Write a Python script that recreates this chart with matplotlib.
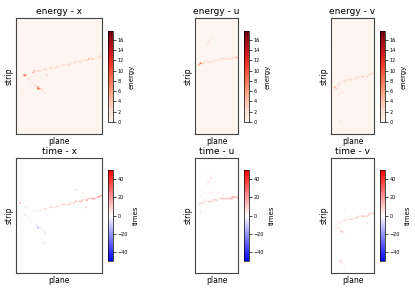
import numpy as np
import matplotlib
matplotlib.use('Agg')
import matplotlib.pyplot as plt

W, H = 415, 290

# hits: plane, strip, energy, time
x_plane = [17, 19, 21, 23, 25, 27, 29, 31, 33, 35, 37, 39, 41, 43, 45, 47, 49, 51, 53, 55, 57, 59, 61, 63, 65, 67, 69, 71, 73, 75, 77, 79, 81, 83, 85,
           8, 9, 10, 12, 14, 16, 18, 20, 21, 22, 23, 24, 26, 28, 29, 31, 7, 59, 3, 9, 28, 66, 70]
x_strip = [62, 63, 63, 64, 64, 65, 65, 65, 66, 66, 67, 67, 68, 68, 69, 69, 69, 70, 70, 71, 71, 72, 72, 73, 73, 74, 74, 74, 75, 75, 76, 76, 77, 77, 78,
           59, 59, 59, 56, 54, 52, 50, 48, 47, 46, 46, 45, 44, 42, 41, 59, 42, 85, 71, 66, 30, 81, 67]
x_energy = [6, 5, 3, 2.5, 2.5, 2.5, 2.5, 2, 2.5, 2.5, 2, 2.5, 2.5, 2.5, 2, 2.5, 2.5, 2.5, 2.5, 2.5, 3, 2.5, 2.5, 2.5, 2.5, 3, 2.5, 3, 6, 5, 2.5, 2.5, 2.5, 2.5, 3,
            10, 12, 9, 3, 2, 1.5, 2, 3, 7, 9, 7, 4, 2, 2, 1.5, 4, 1.5, 0.3, 0.3, 0.5, 0.3, 0.5, 0.3]
x_times = [2, 3, 3, 4, 5, 5, 6, 6, 6, 7, 7, 8, 8, 9, 9, 10, 10, 11, 11, 11, 12, 13, 13, 14, 14, 15, 16, 17, 17, 18, 19, 20, 21, 22, 23,
           -5, -6, -5, -3, -2, -2, -3, -6, -9, -10, -8, -6, -3, 6, 8, -3, -3, 10, 22, -6, 10, 4, 10]

u_plane = [4, 5, 6, 7, 8, 9, 10, 12, 13, 14, 15, 16, 17, 19, 20, 21, 22, 24, 25, 26, 27, 29, 30, 31, 32, 34, 35, 36, 37, 38, 39, 40, 41, 42,
           15, 14, 13, 12, 11, 10, 16, 9, 13, 5, 21, 28, 5, 5]
u_strip = [69, 71, 71, 71, 71, 72, 72, 72, 72, 73, 73, 73, 73, 74, 74, 74, 74, 75, 75, 75, 75, 75, 76, 76, 76, 76, 76, 76, 77, 77, 77, 77, 77, 76,
           96, 94, 92, 90, 89, 74, 81, 63, 100, 79, 81, 80, 60, 62]
u_energy = [6, 9, 7, 5, 3, 3, 2.5, 2.5, 2.5, 2.5, 3, 2.5, 2.5, 2.5, 2.5, 2.5, 2.5, 2.5, 2.5, 2.5, 2.5, 2.5, 2.5, 2.5, 2.5, 2.5, 2.5, 2.5, 2.5, 2.5, 2.5, 3, 5, 2.5,
            2.5, 2.5, 2, 1.5, 2, 1, 0.7, 0.5, 0.3, 0.5, 0.5, 0.5, 0.5, 0.5]
u_times = [5, 6, 5, 6, 7, 6, 7, 7, 7, 10, 11, 10, 9, 11, 10, 11, 10, 11, 10, 11, 12, 13, 13, 12, 13, 13, 15, 15, 17, 15, 17, 18, 18, 17,
           10, 5, 4, 3, 3, 5, 5, 3, 4, 4, 4, 6, 4, 4]

v_plane = [4, 5, 6, 7, 8, 10, 12, 14, 16, 18, 20, 22, 24, 26, 28, 30, 32, 34, 36, 38, 40, 42,
           4, 7, 8, 8, 9, 15, 10, 10, 11, 11, 14, 14, 11, 36]
v_strip = [47, 46, 48, 49, 50, 52, 53, 53, 54, 54, 55, 55, 56, 56, 57, 57, 57, 58, 58, 59, 60, 60,
           58, 52, 40, 45, 43, 39, 13, 11, 9, 42, 3, 63, 41, 50]
v_energy = [6, 4, 4, 3, 3, 2.5, 2.5, 2.5, 2.5, 2.5, 2.5, 2, 2.5, 2.5, 3, 2.5, 3.5, 2.5, 3.5, 2.5, 3.5, 3,
            1, 0.7, 2, 1.5, 1, 1, 2, 1.5, 1, 1.5, 1, 0.5, 1, 0.3]
v_times = [3, 4, 4, 5, 5, 6, 6, 7, 7, 7, 8, 8, 9, 10, 11, 11, 13, 12, 13, 14, 14, 15,
           4, 6, 4, 6, 10, 4, 10, 8, 6, 10, 5, 5, 8, 8]

names = ['x', 'u', 'v']
planes = [x_plane, u_plane, v_plane]
strips = [x_strip, u_strip, v_strip]
energies = [x_energy, u_energy, v_energy]
times = [x_times, u_times, v_times]
n_planes = [86, 43, 43]
n_strips = 116
# one cell covers about 1.5 pixels, so imshow smooths the hits
cell = 1.5


def box(left, top, right, bottom):
    # pixel box to figure fraction
    return [left / W, 1 - bottom / H, (right - left) / W, (bottom - top) / H]


def draw(ax_box, cax_box, img, cmap, vmin, vmax, title, label, ticks):
    ax = fig.add_axes(box(*ax_box))
    im = ax.imshow(img, origin='lower', aspect='auto', cmap=cmap, vmin=vmin, vmax=vmax)
    ax.set_xticks([])
    ax.set_yticks([])
    ax.set_title(title, fontsize=6.5, pad=3)
    ax.set_xlabel('plane', fontsize=5.5, labelpad=2)
    ax.set_ylabel('strip', fontsize=5.5, labelpad=1.5)
    for s in ax.spines.values():
        s.set_linewidth(0.8)
        s.set_color('#444444')
    cax = fig.add_axes(box(*cax_box))
    cb = fig.colorbar(im, cax=cax)
    cb.set_ticks(ticks)
    cb.ax.tick_params(labelsize=3.5, length=2, width=0.5, pad=1.5)
    cb.outline.set_linewidth(0.5)
    cb.set_label(label, fontsize=5, labelpad=3)


fig = plt.figure(figsize=(W / 100, H / 100), dpi=100)

ax_x = [(16, 102), (195, 238), (331, 374)]
cax_x = [(108, 113), (244, 249), (380, 385)]

for i in range(3):
    shape = (int(n_strips / cell) + 1, int(n_planes[i] / cell) + 1)
    e = np.zeros(shape)
    t = np.zeros(shape)
    rows = (np.array(strips[i]) / cell).astype(int)
    cols = (np.array(planes[i]) / cell).astype(int)
    e[rows, cols] = energies[i]
    t[rows, cols] = times[i]
    draw((ax_x[i][0], 18, ax_x[i][1], 134), (cax_x[i][0], 31, cax_x[i][1], 122),
         e, 'Reds', 0, 17.7, 'energy - ' + names[i], 'energy', list(range(0, 18, 2)))
    draw((ax_x[i][0], 158, ax_x[i][1], 273), (cax_x[i][0], 170, cax_x[i][1], 261),
         t, 'bwr', -50.5, 50.5, 'time - ' + names[i], 'times', [-40, -20, 0, 20, 40])

fig.savefig('out.png', dpi=100)
